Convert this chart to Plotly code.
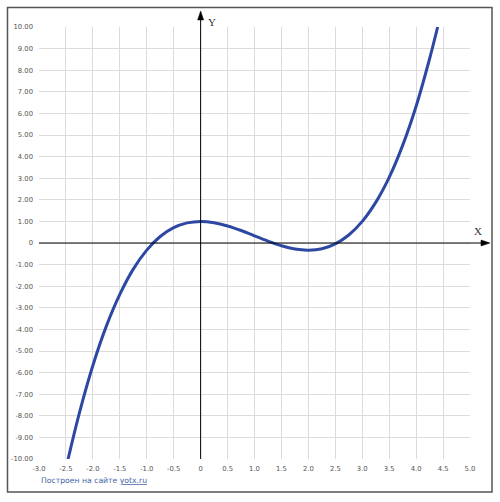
import plotly.graph_objects as go

# Curve points
x_vals = [-2.46, -2.25, -2.0, -1.75, -1.5, -1.25, -1.0, -0.75, -0.5, -0.25, 0.0,
          0.25, 0.5, 0.75, 1.0, 1.25, 1.5, 1.75, 2.0, 2.25, 2.5, 2.75, 3.0,
          3.25, 3.5, 3.75, 4.0, 4.25, 4.4]
y_vals = [-10.0, -7.86, -5.67, -3.85, -2.38, -1.21, -0.33, 0.30, 0.71, 0.93, 1.0,
          0.94, 0.79, 0.58, 0.33, 0.09, -0.13, -0.28, -0.33, -0.27, -0.04, 0.37, 1.0,
          1.88, 3.04, 4.52, 6.33, 8.53, 10.0]

x_ticks = [-3.0, -2.5, -2.0, -1.5, -1.0, -0.5, 0, 0.5, 1.0, 1.5, 2.0, 2.5, 3.0, 3.5, 4.0, 4.5, 5.0]
x_ticktext = ["-3.0", "-2.5", "-2.0", "-1.5", "-1.0", "-0.5", "0", "0.5", "1.0", "1.5",
              "2.0", "2.5", "3.0", "3.5", "4.0", "4.5", "5.0"]
y_ticks = list(range(-10, 11))
y_ticktext = [("%.2f" % v) if v != 0 else "0" for v in y_ticks]

W, H = 500, 502
# plot area in window pixels: x 39..470, y 27..459
ML, MT = 39, 27
PW, PH = 470 - 39, 459 - 27
MR = W - ML - PW
MB = H - MT - PH

def px(xp):
    return (xp - ML) / PW

def py(yp):
    return (MT + PH - yp) / PH

fig = go.Figure()
fig.add_trace(go.Scatter(x=x_vals, y=y_vals, mode="lines",
                         line=dict(color="#2d48a3", width=3, shape="spline"),
                         hoverinfo="skip", showlegend=False))

tickfont = dict(family="DejaVu Sans", size=6.8, color="#555555")
fig.update_xaxes(range=[-3, 5], tickmode="array", tickvals=x_ticks, ticktext=x_ticktext,
                 showgrid=True, gridcolor="#dcdcdc", gridwidth=1, zeroline=False,
                 showline=False, ticks="", tickfont=tickfont, ticklabelstandoff=4)
fig.update_yaxes(range=[-10, 10], tickmode="array", tickvals=y_ticks, ticktext=y_ticktext,
                 showgrid=True, gridcolor="#dcdcdc", gridwidth=1, zeroline=False,
                 showline=False, ticks="", tickfont=tickfont, ticklabelstandoff=5)

x0p = 3 / 8  # paper position of x=0
y0p = 0.5    # paper position of y=0
shapes = [
    # outer frame
    dict(type="rect", xref="paper", yref="paper", x0=px(7.5), x1=px(492), y0=py(492), y1=py(7.5),
         line=dict(color="#555555", width=1.5), layer="below"),
    # x axis line
    dict(type="line", xref="paper", yref="paper", x0=0, x1=px(484), y0=y0p, y1=y0p,
         line=dict(color="black", width=1)),
    # y axis line
    dict(type="line", xref="paper", yref="paper", x0=x0p, x1=x0p, y0=0, y1=py(18),
         line=dict(color="black", width=1)),
    # arrowheads
    dict(type="path", xref="paper", yref="paper",
         path=f"M {px(490)} {y0p} L {px(481)} {y0p + 3/PH} L {px(481)} {y0p - 3/PH} Z",
         fillcolor="black", line=dict(color="black", width=0.5)),
    dict(type="path", xref="paper", yref="paper",
         path=f"M {x0p} {py(11)} L {x0p - 3/PW} {py(20)} L {x0p + 3/PW} {py(20)} Z",
         fillcolor="black", line=dict(color="black", width=0.5)),
]

annotations = [
    dict(text="X", xref="paper", yref="paper", x=px(484), y=py(231), showarrow=False,
         font=dict(family="Liberation Serif", size=11, color="#333333")),
    dict(text="Y", xref="paper", yref="paper", x=px(212), y=py(14), showarrow=False,
         font=dict(family="Liberation Serif", size=11, color="#333333")),
    dict(text='Построен на сайте <span style="text-decoration:underline">yotx.ru</span>',
         xref="paper", yref="paper", x=px(39), y=py(481), xanchor="left", yanchor="middle",
         showarrow=False, font=dict(family="DejaVu Sans", size=7.7, color="#4563a8")),
]

fig.update_layout(width=W, height=H, margin=dict(l=ML, r=MR, t=MT, b=MB),
                  paper_bgcolor="white", plot_bgcolor="white",
                  shapes=shapes, annotations=annotations, showlegend=False)

fig.write_html("out.html", config={"displayModeBar": False},
               post_script="document.body.style.margin='0';"
                           "document.body.style.overflow='hidden';"
                           "document.documentElement.style.overflow='hidden';")
